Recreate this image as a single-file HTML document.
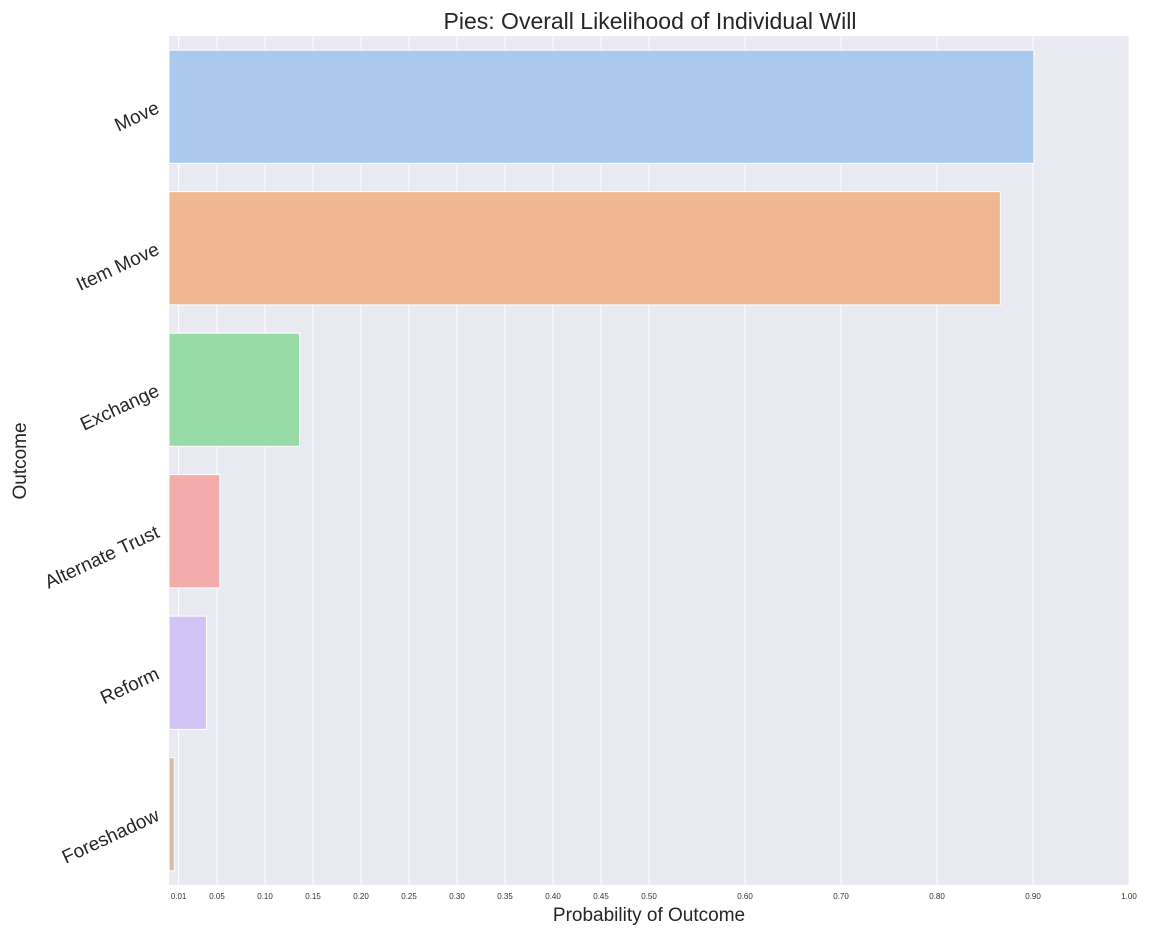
<!DOCTYPE html>
<html><head><meta charset="utf-8"><style>
body{margin:0;background:#fff;font-family:"Liberation Sans",Arial,sans-serif}
</style></head><body>
<svg id="chart" width="1152" height="936" xmlns="http://www.w3.org/2000/svg" font-family="Liberation Sans, Arial, sans-serif"></svg>
<script>
const categories=["Move","Item Move","Exchange","Alternate Trust","Reform","Foreshadow"];
const values=[0.901,0.866,0.136,0.053,0.039,0.0055];
const colors=["#abc9ec","#f0b793","#98dba8","#f2aca9","#d3c4f5","#d9bda4"];
const tickVals=[0.01,0.05,0.10,0.15,0.20,0.25,0.30,0.35,0.40,0.45,0.50,0.60,0.70,0.80,0.90,1.00];
const tickLabels=["0.01","0.05","0.10","0.15","0.20","0.25","0.30","0.35","0.40","0.45","0.50","0.60","0.70","0.80","0.90","1.00"];
const L=169,R=1129,T=36,B=885;
const x=v=>L+(R-L)*v;
const band=(B-T)/categories.length;
const y=i=>T+band*i;
const svg=document.getElementById('chart');
const NS="http://www.w3.org/2000/svg";
function mk(t,a,p){const e=document.createElementNS(NS,t);for(const k in a)e.setAttribute(k,a[k]);(p||svg).appendChild(e);return e;}
const bg=mk('rect',{x:L,y:T,width:R-L,height:B-T,fill:'#eaeaf2'});


tickVals.forEach((v,i)=>{
 const g=mk('line',{x1:x(v),x2:x(v),y1:T,y2:B,stroke:'#fff','stroke-width':1});
 
 
 const t=mk('text',{x:x(v),y:899,'font-size':8,fill:'#333','text-anchor':'middle'});
 t.textContent=tickLabels[i];
 
 
});
categories.forEach((c,i)=>{
 const yb=y(i)+band*0.1, h=band*0.8;
 const r=mk('rect',{x:L,y:yb,width:x(values[i])-L,height:h,fill:colors[i],stroke:'#fff','stroke-width':1});
 
 
 const cy=y(i)+band/2;
 const t=mk('text',{x:158,y:cy+6,'font-size':19,fill:'#262626','text-anchor':'end',transform:`rotate(-25 158 ${cy})`});
 t.textContent=c;
 
 
});
const ti=mk('text',{x:650,y:29,'font-size':23,fill:'#262626','text-anchor':'middle'});
ti.textContent="Pies: Overall Likelihood of Individual Will";


const xt=mk('text',{x:649,y:921,'font-size':19,fill:'#262626','text-anchor':'middle'});
xt.textContent="Probability of Outcome";


const yt=mk('text',{x:26,y:461,'font-size':19,fill:'#262626','text-anchor':'middle',transform:'rotate(-90 26 461)'});
yt.textContent="Outcome";


</script>
</body></html>
